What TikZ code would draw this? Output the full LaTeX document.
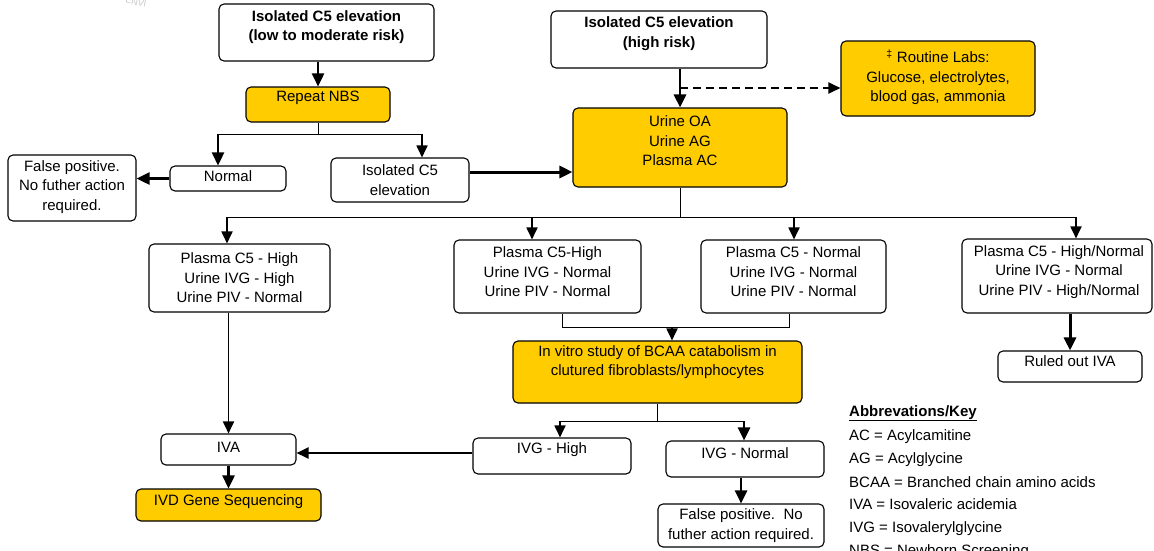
\documentclass[tikz,border=0pt]{standalone}
\usepackage{fontspec}
\setmainfont{Liberation Sans}
\usetikzlibrary{arrows.meta,calc}
\definecolor{labgold}{RGB}{255,204,0}
\begin{document}
\begin{tikzpicture}[x=1pt,y=-1pt,
  font=\fontsize{15}{19.5}\selectfont,
  box/.style={draw=black,line width=1.1pt,rounded corners=5pt,fill=white,inner sep=0pt},
  goldbox/.style={box,fill=labgold},
  txt/.style={align=center,inner sep=0pt},
  keyline/.style={anchor=base west,inner sep=0pt},
  link/.style={line width=1pt},
  arr/.style={line width=1.8pt,-{Triangle[length=12pt,width=11pt]}},
  bigarr/.style={line width=2.6pt,-{Triangle[length=13pt,width=12pt]}},
  dasharr/.style={line width=2pt,dash pattern=on 8pt off 5pt,-{Triangle[length=12pt,width=11pt]}}]

\useasboundingbox (0,0) rectangle (1154,550);

% faint stamp fragment in the corner
\node[text=black!22,font=\fontsize{9}{9}\selectfont,rotate=-12,inner sep=0pt] (seal) at (136,2) {ENVI};

% ---- boxes ----
\node[box,minimum width=215pt,minimum height=57pt] (lowrisk) at (326.5,32.5) {};
\node[box,minimum width=216pt,minimum height=57pt] (highrisk) at (659,39.5) {};
\node[goldbox,minimum width=194pt,minimum height=75pt] (labs) at (938,78.5) {};
\node[goldbox,minimum width=144pt,minimum height=35pt] (nbs) at (318,104.5) {};
\node[goldbox,minimum width=214pt,minimum height=79pt] (urine) at (680,147.5) {};
\node[box,minimum width=116pt,minimum height=25pt] (normal) at (228,178.5) {};
\node[box,minimum width=138pt,minimum height=44pt] (iso) at (400,180) {};
\node[box,minimum width=128pt,minimum height=66pt] (fp1) at (72,188) {};
\node[box,minimum width=181pt,minimum height=68pt] (res1) at (239.5,278) {};
\node[box,minimum width=187pt,minimum height=73pt] (res2) at (547.5,276.5) {};
\node[box,minimum width=185pt,minimum height=73pt] (res3) at (793.5,276.5) {};
\node[box,minimum width=190pt,minimum height=74pt] (res4) at (1057,276) {};
\node[box,minimum width=144pt,minimum height=31pt] (ruled) at (1070,366.5) {};
\node[goldbox,minimum width=289pt,minimum height=62pt] (vitro) at (657.5,372) {};
\node[box,minimum width=158pt,minimum height=36pt] (ivgh) at (552,456) {};
\node[box,minimum width=158pt,minimum height=36pt] (ivgn) at (745,459) {};
\node[box,minimum width=166pt,minimum height=43pt] (fp2) at (741,525.5) {};
\node[box,minimum width=135pt,minimum height=31pt] (iva) at (228.5,449.5) {};
\node[goldbox,minimum width=185pt,minimum height=32pt] (ivd) at (228.5,505) {};

% ---- box texts ----
\node[txt,font=\fontsize{15}{19.5}\selectfont\bfseries] (lowrisk-t) at (326.5,27) {Isolated C5 elevation\\(low to moderate risk)};
\node[txt,font=\fontsize{15}{19.5}\selectfont\bfseries] (highrisk-t) at (659,33.5) {Isolated C5 elevation\\(high risk)};
\node[txt] (labs-t) at (938,77.5) {\textsuperscript{‡} Routine Labs:\\Glucose, electrolytes,\\blood gas, ammonia};
\node[txt] (nbs-t) at (318,98) {Repeat NBS};
\node[txt] (urine-t) at (680,141) {Urine OA\\Urine AG\\Plasma AC};
\node[txt] (normal-t) at (228,176) {Normal};
\node[txt] (iso-t) at (400,180) {Isolated C5\\elevation};
\node[txt] (fp1-t) at (72,187) {False positive.\\No futher action\\required.};
\node[txt] (res1-t) at (239.5,277.7) {Plasma C5 - High\\Urine IVG - High\\Urine PIV - Normal};
\node[txt] (res2-t) at (547.5,272) {Plasma C5-High\\Urine IVG - Normal\\Urine PIV - Normal};
\node[txt] (res3-t) at (793.5,272) {Plasma C5 - Normal\\Urine IVG - Normal\\Urine PIV - Normal};
\node[txt] (res4-t) at (1059,272) {Plasma C5 - High/Normal\\Urine IVG - Normal\\Urine PIV - High/Normal};
\node[txt] (ruled-t) at (1070,361) {Ruled out IVA};
\node[txt] (vitro-t) at (657.5,362) {In vitro study of BCAA catabolism in\\clutured fibroblasts/lymphocytes};
\node[txt] (ivgh-t) at (552,450) {IVG - High};
\node[txt] (ivgn-t) at (745,453) {IVG - Normal};
\node[txt] (fp2-t) at (741,525.5) {False positive.\ \ No\\futher action required.};
\node[txt] (iva-t) at (228.5,447) {IVA};
\node[txt] (ivd-t) at (228.5,502) {IVD Gene Sequencing};

% ---- branch points ----
\coordinate (f1a) at (218,134);
\coordinate (f1b) at (422,134);
\coordinate (dsplit) at (680,88);
\coordinate (f2a) at (227,217);
\coordinate (f2c) at (532,217);
\coordinate (f2d) at (794,217);
\coordinate (f2b) at (1076,217);
\coordinate (f3a) at (562,327);
\coordinate (f3c) at (672,327);
\coordinate (f3b) at (789,327);
\coordinate (f4a) at (560,421);
\coordinate (f4b) at (744,421);

% ---- connectors ----
\draw[bigarr] (lowrisk.south -| nbs.north) -- (nbs.north);
\draw[link] (nbs.south) -- (nbs.south |- f1a);
\draw[link] (f1a) -- (f1b);
\draw[bigarr] (f1a) -- (f1a |- normal.north);
\draw[arr] (f1b) -- (f1b |- iso.north);
\draw[bigarr] (normal.west) -- (normal.west -| fp1.east);
\draw[bigarr,line width=3pt] ([yshift=8pt]iso.east) -- ([yshift=8pt]iso.east -| urine.west);

\draw[bigarr,line width=2.8pt] (urine.north |- highrisk.south) -- (urine.north);
\draw[dasharr] (dsplit) -- (dsplit -| labs.west);

\draw[link] (urine.south) -- (urine.south |- f2a);
\draw[link] (f2a) -- (f2b);
\draw[arr] (f2a) -- (f2a |- res1.north);
\draw[arr] (f2c) -- (f2c |- res2.north);
\draw[arr] (f2d) -- (f2d |- res3.north);
\draw[arr] (f2b) -- (f2b |- res4.north);

\draw[arr] (iva.north |- res1.south) -- (iva.north);
\draw[bigarr] (iva.south) -- (ivd.north);

\draw[link] (f3a |- res2.south) -- (f3a) -- (f3b) -- (f3b |- res3.south);
\draw[arr] (f3c) -- (f3c |- vitro.north);

\draw[link] (vitro.south) -- (vitro.south |- f4a);
\draw[link] (f4a) -- (f4b);
\draw[arr] (f4a) -- (f4a |- ivgh.north);
\draw[bigarr] (f4b) -- (f4b |- ivgn.north);
\draw[arr,line width=2.2pt] ([yshift=3pt]ivgh.west) -- ([yshift=3pt]ivgh.west -| iva.east);
\draw[bigarr] (fp2.north |- ivgn.south) -- (fp2.north);

\draw[bigarr,line width=3pt] (ruled.north |- res4.south) -- (ruled.north);

% ---- key ----
\node[keyline] (key0) at (849,416) {\underline{\textbf{Abbrevations/Key}}};
\node[keyline] (key1) at (849,440) {AC = Acylcamitine};
\node[keyline] (key2) at (849,463) {AG = Acylglycine};
\node[keyline] (key3) at (849,487) {BCAA = Branched chain amino acids};
\node[keyline] (key4) at (849,509) {IVA = Isovaleric acidemia};
\node[keyline] (key5) at (849,532) {IVG = Isovalerylglycine};
\node[keyline] (key6) at (849,555) {NBS = Newborn Screening};
\end{tikzpicture}
\end{document}
